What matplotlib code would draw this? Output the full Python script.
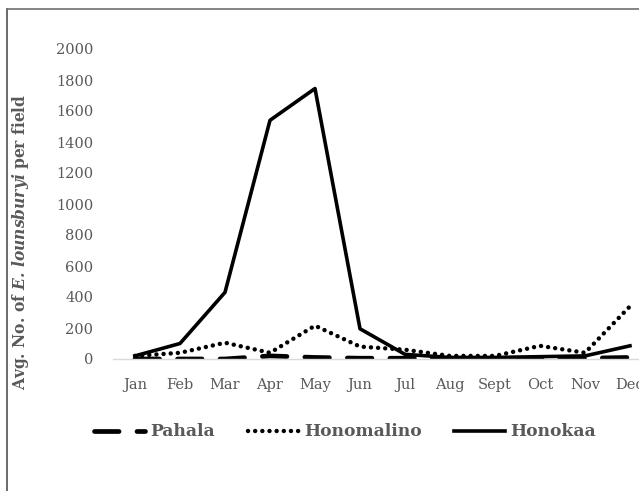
import matplotlib
matplotlib.use("Agg")
import matplotlib.pyplot as plt
from matplotlib.lines import Line2D

months = ["Jan", "Feb", "Mar", "Apr", "May", "Jun", "Jul", "Aug", "Sept", "Oct", "Nov", "Dec"]
pahala = [0, 0, 0, 20, 10, 5, 5, 0, 0, 0, 5, 10]
honomalino = [20, 40, 105, 40, 215, 80, 60, 20, 20, 85, 40, 340]
honokaa = [20, 100, 430, 1540, 1745, 195, 30, 10, 10, 15, 20, 85]
yticks = [0, 200, 400, 600, 800, 1000, 1200, 1400, 1600, 1800, 2000]

plt.rcParams["font.family"] = ["DejaVu Serif"]
plt.rcParams["mathtext.fontset"] = "custom"
plt.rcParams["mathtext.bfit"] = "DejaVu Serif:italic:bold"
plt.rcParams["mathtext.rm"] = "DejaVu Serif:bold"

gray = "#595959"
W, H = 639, 491
fig = plt.figure(figsize=(W / 100, H / 100), dpi=100)

# axes: x from Jan-0.5 to Dec+0.5 in pixel terms
step = 45.0
x0 = 135 - 0.5 * step
x1 = x0 + 12 * step
ybot, ytop = 359, 49
ax = fig.add_axes([x0 / W, 1 - ybot / H, (x1 - x0) / W, (ybot - ytop) / H])
ax.set_xlim(-0.5, 11.5)
ax.set_ylim(0, 2000)

x = list(range(len(months)))
l1, = ax.plot(x, pahala, color="black", lw=3.4, dashes=(5.2, 3.8),
              dash_capstyle="round", label="Pahala")
l2, = ax.plot(x, honomalino, color="black", lw=3.2, dashes=(0.01, 1.6), dash_capstyle="round",
              label="Honomalino")
l3, = ax.plot(x, honokaa, color="black", lw=2.6, label="Honokaa")

for s in ["top", "right", "left"]:
    ax.spines[s].set_visible(False)
ax.spines["bottom"].set_color("#d9d9d9")
ax.spines["bottom"].set_linewidth(1)
ax.set_xticks(x)
ax.set_xticklabels(months)
ax.set_yticks(yticks)
ax.tick_params(axis="both", length=0, labelsize=10.5, labelcolor=gray)
ax.tick_params(axis="x", pad=14)
ax.tick_params(axis="y", pad=14)

fig.text(21 / W, 1 - 242 / H,
         r"Avg. No. of $\mathbfit{E.\,lounsburyi}$ per field",
         rotation=90, ha="center", va="center", fontsize=11.2, fontweight="bold", color=gray)

fig.legend(handles=[l1, l2, l3], loc="center", bbox_to_anchor=(345 / W, 1 - 432 / H),
           ncol=3, frameon=False, handlelength=3.0, handletextpad=0.3, columnspacing=1.9,
           prop={"weight": "bold", "size": 12.3}, labelcolor=gray)

# outer frame (top and left edges visible in the crop)
fig.add_artist(Line2D([7 / W, 7 / W], [0, 1 - 9 / H], transform=fig.transFigure,
                      color="#505050", lw=1.2))
fig.add_artist(Line2D([7 / W, 1], [1 - 9 / H, 1 - 9 / H], transform=fig.transFigure,
                      color="#707070", lw=1.2))

fig.savefig("out.png", dpi=100)
